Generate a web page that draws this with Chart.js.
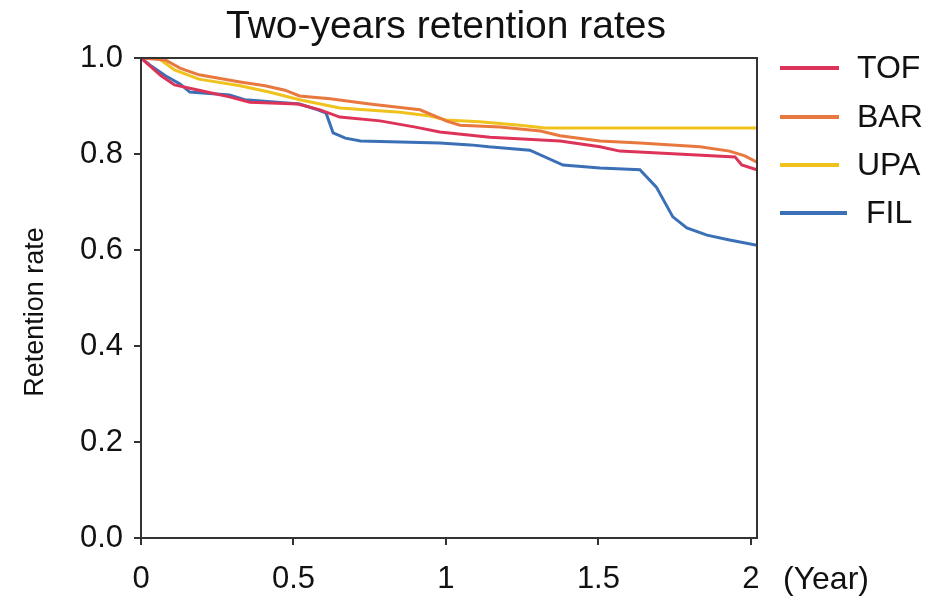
<!DOCTYPE html>
<html>
<head>
<meta charset="utf-8">
<script src="https://cdn.jsdelivr.net/npm/chart.js@4.4.1/dist/chart.umd.min.js"></script>
<style>
  html, body { margin: 0; padding: 0; background: #fff; }
  #wrap { width: 927px; height: 598px; }
</style>
</head>
<body>
<div id="wrap"><canvas id="retention"></canvas></div>
<script>
// values (years, retention rate)
const tofX = [0, 0.03, 0.066, 0.11, 0.19, 0.29, 0.357, 0.515, 0.587, 0.652, 0.784, 0.9, 0.98, 1.144, 1.374, 1.505, 1.57, 1.948, 1.97, 2.02];
const tofY = [1.0, 0.983, 0.963, 0.944, 0.933, 0.919, 0.908, 0.904, 0.892, 0.877, 0.869, 0.856, 0.846, 0.835, 0.827, 0.815, 0.806, 0.794, 0.777, 0.767];

const barX = [0, 0.08, 0.128, 0.19, 0.325, 0.407, 0.472, 0.52, 0.62, 0.75, 0.915, 0.98, 1.0, 1.046, 1.177, 1.31, 1.374, 1.505, 1.636, 1.833, 1.93, 1.98, 2.02];
const barY = [1.0, 0.996, 0.979, 0.965, 0.95, 0.942, 0.933, 0.921, 0.915, 0.904, 0.892, 0.875, 0.869, 0.86, 0.856, 0.848, 0.838, 0.827, 0.823, 0.815, 0.806, 0.796, 0.783];

const upaX = [0, 0.056, 0.11, 0.19, 0.325, 0.42, 0.52, 0.652, 0.85, 0.948, 1.0, 1.11, 1.243, 1.325, 2.02];
const upaY = [1.0, 1.0, 0.975, 0.956, 0.942, 0.929, 0.913, 0.896, 0.887, 0.879, 0.871, 0.867, 0.86, 0.854, 0.854];

const filX = [0, 0.03, 0.08, 0.128, 0.16, 0.29, 0.34, 0.52, 0.58, 0.607, 0.63, 0.67, 0.72, 0.98, 1.08, 1.14, 1.275, 1.384, 1.505, 1.636, 1.69, 1.744, 1.79, 1.856, 1.93, 2.02];
const filY = [1.0, 0.985, 0.963, 0.946, 0.929, 0.923, 0.913, 0.904, 0.892, 0.885, 0.844, 0.833, 0.827, 0.823, 0.819, 0.815, 0.808, 0.777, 0.771, 0.767, 0.731, 0.669, 0.646, 0.631, 0.621, 0.61];

const seriesNames = ['TOF', 'BAR', 'UPA', 'FIL'];
const seriesColors = ['#de3358', '#e8783e', '#f0c21e', '#3b70b6'];
const xTicks = [0, 0.5, 1, 1.5, 2];
const yTicks = [0, 0.2, 0.4, 0.6, 0.8, 1.0];

const FONT = '"Liberation Sans", Arial, sans-serif';

function pts(xs, ys) {
    return xs.map((x, i) => ({ x: x, y: ys[i] }));
}

const allX = [tofX, barX, upaX, filX];
const allY = [tofY, barY, upaY, filY];

// frame, title, y title, legend and the "(Year)" unit
const extras = {
    id: 'extras',
    afterDraw(chart) {
        const c = chart.ctx;
        const a = chart.chartArea;
        c.save();
        c.strokeStyle = '#333';
        c.lineWidth = 2;
        c.strokeRect(a.left, a.top, a.right - a.left, a.bottom - a.top);

        c.fillStyle = '#111';
        c.font = '39px ' + FONT;
        c.textAlign = 'center';
        c.textBaseline = 'middle';
        c.fillText('Two-years retention rates', 446, 27);

        c.save();
        c.translate(36, 312);
        c.rotate(-Math.PI / 2);
        c.font = '27px ' + FONT;
        c.fillText('Retention rate', 0, 0);
        c.restore();

        c.font = '32px ' + FONT;
        c.textAlign = 'left';
        c.fillText('(Year)', 783, 580);

        const rows = [68, 117, 165, 213];
        chart.data.datasets.forEach((ds, i) => {
            const y = rows[i];
            const x1 = i === 3 ? 847 : 839;
            c.strokeStyle = ds.borderColor;
            c.lineWidth = 4;
            c.beginPath();
            c.moveTo(780, y);
            c.lineTo(x1, y);
            c.stroke();
            c.fillStyle = '#111';
            c.fillText(ds.label, i === 3 ? 866 : 857, y + 1);
        });
        c.restore();
    }
};

new Chart(document.getElementById('retention'), {
    type: 'line',
    data: {
        datasets: seriesNames.map((name, i) => ({
            label: name,
            data: pts(allX[i], allY[i]),
            borderColor: seriesColors[i],
            borderWidth: 3,
            pointRadius: 0,
            tension: 0,
            fill: false
        }))
    },
    options: {
        responsive: true,
        maintainAspectRatio: false,
        animation: false,
        layout: { padding: { left: 0, right: 170, top: 58, bottom: 0 } },
        plugins: {
            legend: { display: false },
            title: { display: false },
            tooltip: { enabled: false }
        },
        scales: {
            x: {
                type: 'linear',
                min: 0,
                max: 2.02,
                afterBuildTicks: (s) => { s.ticks = xTicks.map(v => ({ value: v })); },
                afterFit: (s) => { s.height = 60; },
                grid: { display: true, drawOnChartArea: false, drawTicks: true, tickLength: 7, color: '#333', lineWidth: 2 },
                border: { display: true, color: '#333', width: 2 },
                ticks: {
                    color: '#111',
                    font: { family: FONT, size: 31 },
                    padding: 16,
                    maxRotation: 0,
                    callback: (v) => String(v)
                }
            },
            y: {
                min: 0,
                max: 1,
                afterBuildTicks: (s) => { s.ticks = yTicks.map(v => ({ value: v })); },
                afterFit: (s) => { s.width = 141; },
                grid: { display: true, drawOnChartArea: false, drawTicks: true, tickLength: 7, color: '#333', lineWidth: 2 },
                border: { display: true, color: '#333', width: 2 },
                ticks: {
                    color: '#111',
                    font: { family: FONT, size: 31 },
                    padding: 11,
                    callback: (v) => v.toFixed(1)
                }
            }
        }
    },
    plugins: [extras]
});
</script>
</body>
</html>
